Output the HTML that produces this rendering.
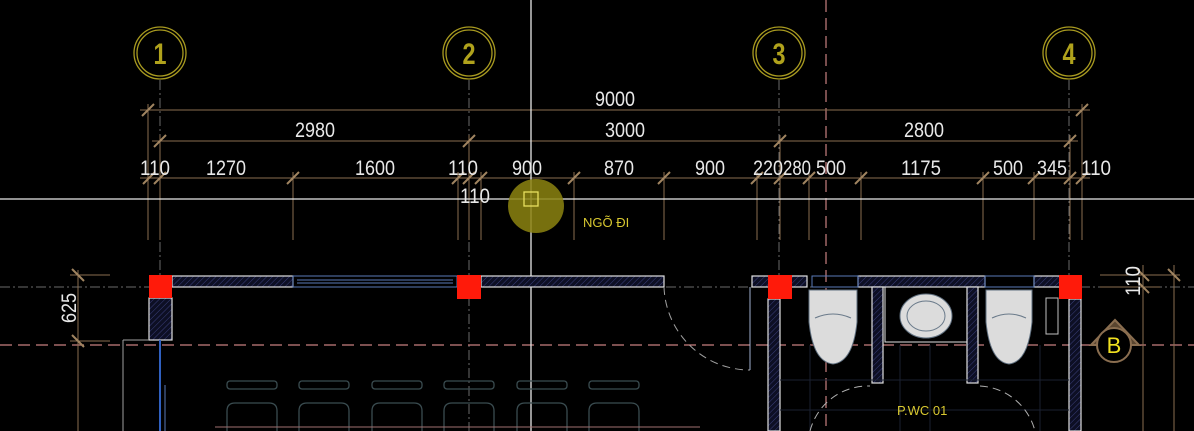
<!DOCTYPE html>
<html><head><meta charset="utf-8"><style>
html,body{margin:0;padding:0;background:#000;width:1194px;height:431px;overflow:hidden}
svg{display:block}
text{font-family:"Liberation Sans",sans-serif}
</style></head><body>
<svg width="1194" height="431" viewBox="0 0 1194 431" xmlns="http://www.w3.org/2000/svg">
<defs>
<pattern id="h" width="4" height="4" patternUnits="userSpaceOnUse" patternTransform="rotate(45)">
<rect width="4" height="4" fill="#0d0f24"/><line x1="0" y1="0" x2="0" y2="4" stroke="#3a3f7a" stroke-width="1"/>
</pattern>
</defs>
<g stroke="#6a6a6a" stroke-width="1" stroke-dasharray="10 3 2 3">
<line x1="160" y1="80" x2="160" y2="431"/>
<line x1="469" y1="80" x2="469" y2="431"/>
<line x1="779" y1="80" x2="779" y2="431"/>
<line x1="1069" y1="80" x2="1069" y2="431"/>
<line x1="0" y1="287" x2="1194" y2="287"/>
</g>
<g stroke="#c88080" stroke-width="1.2" stroke-dasharray="12 6">
<line x1="826" y1="0" x2="826" y2="431"/>
<line x1="0" y1="345" x2="1194" y2="345"/>
</g>
<g fill="none" stroke="#a89a20" stroke-width="1.3">
<circle cx="160" cy="53" r="26"/><circle cx="160" cy="53" r="23"/>
<circle cx="469" cy="53" r="26"/><circle cx="469" cy="53" r="23"/>
<circle cx="779" cy="53" r="26"/><circle cx="779" cy="53" r="23"/>
<circle cx="1069" cy="53" r="26"/><circle cx="1069" cy="53" r="23"/>
</g>
<g fill="#b0a21c" font-size="30" font-weight="bold" text-anchor="middle" lengthAdjust="spacingAndGlyphs">
<text x="160" y="64" textLength="13" lengthAdjust="spacingAndGlyphs">1</text><text x="469" y="64" textLength="13" lengthAdjust="spacingAndGlyphs">2</text><text x="779" y="64" textLength="13" lengthAdjust="spacingAndGlyphs">3</text><text x="1069" y="64" textLength="13" lengthAdjust="spacingAndGlyphs">4</text>
</g>
<g stroke="#8a6e50" stroke-width="1">
<line x1="140" y1="110" x2="1090" y2="110"/>
<line x1="152" y1="141" x2="1078" y2="141"/>
<line x1="140" y1="178" x2="1090" y2="178"/>
<line x1="148" y1="104" x2="148" y2="240"/><line x1="160" y1="135" x2="160" y2="240"/>
<line x1="293" y1="172" x2="293" y2="240"/><line x1="458" y1="172" x2="458" y2="240"/>
<line x1="469" y1="135" x2="469" y2="240"/><line x1="481" y1="172" x2="481" y2="240"/>
<line x1="574" y1="172" x2="574" y2="240"/><line x1="664" y1="172" x2="664" y2="240"/>
<line x1="757" y1="172" x2="757" y2="240"/><line x1="780" y1="135" x2="780" y2="240"/>
<line x1="809" y1="172" x2="809" y2="240"/><line x1="861" y1="172" x2="861" y2="240"/>
<line x1="983" y1="172" x2="983" y2="240"/><line x1="1034" y1="172" x2="1034" y2="240"/>
<line x1="1070" y1="135" x2="1070" y2="240"/><line x1="1082" y1="104" x2="1082" y2="240"/>
<line x1="78" y1="270" x2="78" y2="431"/><line x1="70" y1="275" x2="110" y2="275"/><line x1="70" y1="341" x2="110" y2="341"/>
<line x1="1100" y1="275" x2="1180" y2="275"/><line x1="1100" y1="287" x2="1160" y2="287"/>
<line x1="1143" y1="265" x2="1143" y2="431"/><line x1="1174" y1="265" x2="1174" y2="431"/>
</g>
<g stroke="#a08460" stroke-width="2">
<path d="M142 116l12-12M1076 116l12-12M154 147l12-12M463 147l12-12M774 147l12-12M1064 147l12-12
M143 184l12-12M154 184l12-12M287 184l12-12M452 184l12-12M463 184l12-12M475 184l12-12M568 184l12-12M658 184l12-12M751 184l12-12M774 184l12-12M803 184l12-12M855 184l12-12M977 184l12-12M1028 184l12-12M1064 184l12-12M1076 184l12-12
M72 269l12 12M72 335l12 12M1137 269l12 12M1137 281l12 12M1168 269l12 12"/>
</g>
<g fill="#e8e8e8" font-size="21" text-anchor="middle">
<text x="615" y="106" textLength="40" lengthAdjust="spacingAndGlyphs">9000</text>
<text x="315" y="137" textLength="40" lengthAdjust="spacingAndGlyphs">2980</text><text x="625" y="137" textLength="40" lengthAdjust="spacingAndGlyphs">3000</text><text x="924" y="137" textLength="40" lengthAdjust="spacingAndGlyphs">2800</text>
<text x="155" y="175" textLength="30" lengthAdjust="spacingAndGlyphs">110</text><text x="226" y="175" textLength="40" lengthAdjust="spacingAndGlyphs">1270</text><text x="375" y="175" textLength="40" lengthAdjust="spacingAndGlyphs">1600</text>
<text x="463" y="175" textLength="30" lengthAdjust="spacingAndGlyphs">110</text><text x="527" y="175" textLength="30" lengthAdjust="spacingAndGlyphs">900</text><text x="619" y="175" textLength="30" lengthAdjust="spacingAndGlyphs">870</text>
<text x="710" y="175" textLength="30" lengthAdjust="spacingAndGlyphs">900</text><text x="768" y="175" textLength="30" lengthAdjust="spacingAndGlyphs">220</text><text x="797" y="175" textLength="28" lengthAdjust="spacingAndGlyphs">280</text>
<text x="831" y="175" textLength="30" lengthAdjust="spacingAndGlyphs">500</text><text x="921" y="175" textLength="40" lengthAdjust="spacingAndGlyphs">1175</text><text x="1008" y="175" textLength="30" lengthAdjust="spacingAndGlyphs">500</text>
<text x="1052" y="175" textLength="30" lengthAdjust="spacingAndGlyphs">345</text><text x="1096" y="175" textLength="30" lengthAdjust="spacingAndGlyphs">110</text>
<text x="475" y="203" textLength="30" lengthAdjust="spacingAndGlyphs">110</text>
<text x="0" y="0" transform="translate(76,308) rotate(-90)" textLength="30" lengthAdjust="spacingAndGlyphs">625</text>
<text x="0" y="0" transform="translate(1140,281) rotate(-90)" textLength="30" lengthAdjust="spacingAndGlyphs">110</text>
</g>
<line x1="0" y1="199" x2="1194" y2="199" stroke="#e8e8e8" stroke-width="1.3"/>
<line x1="531" y1="0" x2="531" y2="431" stroke="#e8e8e8" stroke-width="1.3"/>
<ellipse cx="536" cy="206" rx="28" ry="27" fill="#8c8410" opacity="0.85"/>
<rect x="524" y="192" width="14" height="14" fill="none" stroke="#e8e060" stroke-width="1.3"/>
<text x="583" y="227" fill="#d8c830" font-size="13">NGÕ ĐI</text>
<g stroke="#e0e0e0" stroke-width="1.2" fill="url(#h)">
<rect x="172" y="276" width="121" height="11"/>
<rect x="481" y="276" width="183" height="11"/>
<rect x="149" y="298" width="23" height="42"/>
<rect x="752" y="276" width="55" height="11"/>
<rect x="858" y="276" width="127" height="11"/>
<rect x="1034" y="276" width="35" height="11"/>
<rect x="768" y="299" width="12" height="132"/>
<rect x="1069" y="299" width="12" height="132"/>
<rect x="872" y="287" width="11" height="96"/>
<rect x="967" y="287" width="11" height="96"/>
</g>
<g stroke="#5a7ab8" fill="none" stroke-width="1">
<rect x="293" y="276" width="164" height="11"/><line x1="297" y1="280" x2="453" y2="280"/><line x1="297" y1="283" x2="453" y2="283"/>
<rect x="812" y="276" width="46" height="11"/><rect x="985" y="276" width="49" height="11"/>
<line x1="160" y1="340" x2="160" y2="431" stroke="#3060c0" stroke-width="2"/>
<line x1="165" y1="385" x2="165" y2="431"/>
</g>
<path d="M664 287 A86 86 0 0 0 750 370" fill="none" stroke="#a0a0a0" stroke-dasharray="8 5"/>
<line x1="750" y1="287" x2="750" y2="370" stroke="#a0b0d0"/>
<line x1="123" y1="340" x2="123" y2="431" stroke="#a0a0a0"/><line x1="123" y1="340" x2="149" y2="340" stroke="#a0a0a0"/>
<g fill="#ff1a0a">
<rect x="149" y="275" width="23" height="23"/><rect x="457" y="275" width="24" height="24"/>
<rect x="768" y="275" width="24" height="24"/><rect x="1059" y="275" width="23" height="24"/>
</g>
<g stroke="#1a2030" stroke-width="1">
<line x1="780" y1="380" x2="1069" y2="380"/><line x1="780" y1="410" x2="1069" y2="410"/>
<line x1="810" y1="345" x2="810" y2="431"/><line x1="900" y1="345" x2="900" y2="431"/><line x1="930" y1="345" x2="930" y2="431"/><line x1="1040" y1="345" x2="1040" y2="431"/>
</g>
<g fill="#dcdcdc" stroke="#607080">
<path d="M809 290h48v32q-4 40-24 42q-20-2-24-42z"/>
<path d="M986 290h46v32q-4 40-23 42q-19-2-23-42z"/>
<ellipse cx="926" cy="316" rx="26" ry="22"/>
</g>
<g fill="none" stroke="#6a7a8a"><path d="M815 318q18-8 36 0M992 318q17-8 34 0"/><ellipse cx="926" cy="316" rx="19" ry="15"/></g>
<rect x="885" y="287" width="82" height="55" fill="none" stroke="#e0e0e0"/>
<rect x="1046" y="298" width="12" height="36" fill="none" stroke="#c0c0c0"/>
<path d="M810 431 A60 60 0 0 1 870 386" fill="none" stroke="#b0b0b0" stroke-dasharray="8 5"/>
<path d="M980 386 A60 60 0 0 1 1035 431" fill="none" stroke="#b0b0b0" stroke-dasharray="8 5"/>
<text x="897" y="415" fill="#d8c830" font-size="13">P.WC 01</text>
<g fill="none" stroke="#3a4c50" stroke-width="1.3">
<rect x="227" y="381" width="50" height="8" rx="3"/><path d="M227 431v-20q0-8 8-8h34q8 0 8 8v20"/>
<rect x="299" y="381" width="50" height="8" rx="3"/><path d="M299 431v-20q0-8 8-8h34q8 0 8 8v20"/>
<rect x="372" y="381" width="50" height="8" rx="3"/><path d="M372 431v-20q0-8 8-8h34q8 0 8 8v20"/>
<rect x="444" y="381" width="50" height="8" rx="3"/><path d="M444 431v-20q0-8 8-8h34q8 0 8 8v20"/>
<rect x="517" y="381" width="50" height="8" rx="3"/><path d="M517 431v-20q0-8 8-8h34q8 0 8 8v20"/>
<rect x="589" y="381" width="50" height="8" rx="3"/><path d="M589 431v-20q0-8 8-8h34q8 0 8 8v20"/>
</g>
<line x1="215" y1="427" x2="700" y2="427" stroke="#a07070"/>
<path d="M1091 345 L1115 320 L1139 345 Z" fill="#5a4630" stroke="#8a6e50" stroke-width="2"/>
<circle cx="1114" cy="345" r="17" fill="#000" stroke="#8a6e50" stroke-width="2"/>
<text x="1114" y="353" fill="#f0e020" font-size="22" text-anchor="middle">B</text>
</svg>
</body></html>
